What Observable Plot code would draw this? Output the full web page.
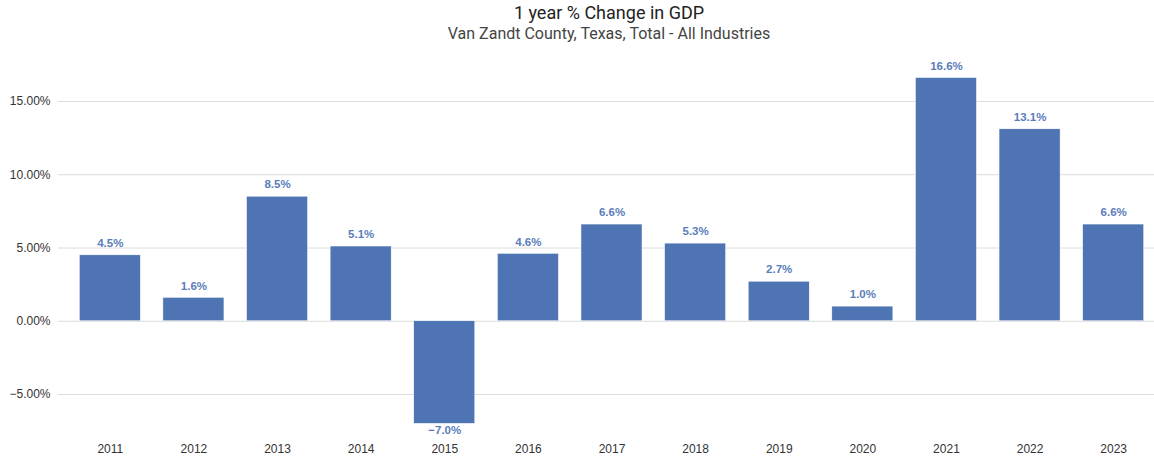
<!DOCTYPE html>
<html>
<head>
<meta charset="utf-8">
<script src="https://cdn.jsdelivr.net/npm/d3@7"></script>
<script src="https://cdn.jsdelivr.net/npm/@observablehq/plot@0.6"></script>
<style>
  html, body { margin: 0; padding: 0; background: #fff; }
  body { width: 1154px; height: 457px; overflow: hidden; font-family: Roboto, "Noto Sans", sans-serif; }
  .head { padding-left: 64px; }
  .title { height: 25px; line-height: 25px; text-align: center; font-size: 18px; color: #222; }
  .subtitle { height: 18px; line-height: 18px; text-align: center; font-size: 16px; color: #444; margin-bottom: 2px; }
</style>
</head>
<body>
<div class="head">
  <div class="title">1 year % Change in GDP</div>
  <div class="subtitle">Van Zandt County, Texas, Total - All Industries</div>
</div>
<div id="chart"></div>
<script>
const years = ["2011","2012","2013","2014","2015","2016","2017","2018","2019","2020","2021","2022","2023"];
const changes = [4.5, 1.6, 8.5, 5.1, -7.0, 4.6, 6.6, 5.3, 2.7, 1.0, 16.6, 13.1, 6.6];
const yTicks = [-5, 0, 5, 10, 15];

const data = years.map((y, i) => ({year: y, value: changes[i]}));
const barColor = "#4e74b3";
const labelColor = "#5b7dba";
const fmtLabel = d => d3.format(".1f")(d) + "%";
const tickFont = "'Liberation Sans', Arial, sans-serif";

const chart = Plot.plot({
  width: 1154,
  height: 412,
  marginLeft: 58,
  marginRight: 0,
  marginTop: 12,
  marginBottom: 19,
  style: {fontFamily: tickFont, fontSize: "12px", color: "#333", background: "#fff"},
  x: {domain: years, range: [68, 1155], paddingInner: 0.27, paddingOuter: 0.135, round: false, label: null},
  y: {domain: [-8, 18], label: null},
  marks: [
    Plot.gridY(yTicks, {stroke: "#dcdcdc", strokeOpacity: 1, strokeWidth: 1}),
    Plot.axisY(yTicks, {tickSize: 0, tickPadding: 8, tickFormat: d => d3.format(".2f")(d) + "%", label: null, fill: "#333", fontSize: 12}),
    Plot.axisX({tickSize: 0, tickPadding: 6, label: null, fill: "#333", fontSize: 12}),
    Plot.barY(data, {x: "year", y: "value", fill: barColor, stroke: "#fff", strokeWidth: 0.5}),
    Plot.text(data.filter(d => d.value >= 0), {x: "year", y: "value", text: d => fmtLabel(d.value), dy: -12, fill: labelColor, fontWeight: "bold", fontSize: 11.5}),
    Plot.text(data.filter(d => d.value < 0), {x: "year", y: "value", text: d => fmtLabel(d.value), dy: 6, fill: labelColor, fontWeight: "bold", fontSize: 11.5})
  ]
});
document.getElementById("chart").appendChild(chart);
</script>
</body>
</html>
